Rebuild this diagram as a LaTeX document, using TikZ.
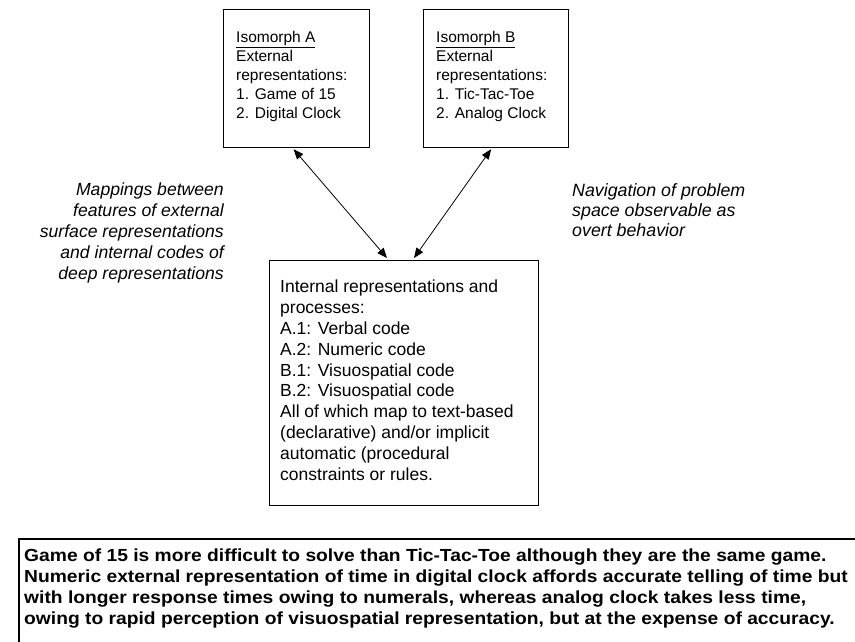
\documentclass[tikz,border=0pt]{standalone}
\usepackage{fontspec}
\setmainfont{Liberation Sans}
\usetikzlibrary{arrows.meta,calc}
\begin{document}
\begin{tikzpicture}[x=1pt,y=-1pt,
  boxed/.style={draw=black, line width=1.2pt, inner sep=0pt, anchor=north west},
  topfont/.style={font=\fontsize{15.5}{19}\selectfont, align=left, anchor=north west, inner sep=0pt},
  midfont/.style={font=\fontsize{17.5}{20.8}\selectfont, align=left, anchor=north west, inner sep=0pt},
  notefont/.style={font=\fontsize{17.6}{21}\selectfont\itshape, inner sep=0pt},
  conn/.style={line width=0.8pt, {Triangle[length=10pt,width=8pt]}-{Triangle[length=10pt,width=8pt]}}
]
\useasboundingbox (0,0) rectangle (855,641);
\fill[white] (0,0) rectangle (855,641);

% top boxes
\node[boxed, minimum width=146pt, minimum height=138pt] (A) at (223,9) {};
\node[topfont] (Atext) at ($(A.north west)+(13,22)$)
  {\underline{Isomorph A}\\External\\representations:\\1. Game of 15\\2. Digital Clock};
\node[boxed, minimum width=145pt, minimum height=138pt] (B) at (423,9) {};
\node[topfont] (Btext) at ($(B.north west)+(13,22)$)
  {\underline{Isomorph B}\\External\\representations:\\1. Tic-Tac-Toe\\2. Analog Clock};

% internal box
\node[boxed, minimum width=269pt, minimum height=245pt] (C) at (269,260) {};
\node[midfont] (Ctext) at ($(C.north west)+(11,20)$)
  {Internal representations and\\processes:\\A.1: Verbal code\\A.2: Numeric code\\B.1: Visuospatial code\\B.2: Visuospatial code\\All of which map to text-based\\(declarative) and/or implicit\\automatic (procedural\\constraints or rules.};

% notes
\node[notefont, align=right, anchor=north east] (left) at (224,183)
  {Mappings between\\features of external\\surface representations\\and internal codes of\\deep representations};
\node[notefont, align=left, anchor=north west, font=\fontsize{17.8}{20}\selectfont\itshape] (right) at (572,183)
  {Navigation of problem\\space observable as\\overt behavior};

% connectors
\coordinate (a1) at ($(A.south)+(-3,1)$);
\coordinate (c1) at ($(C.north west)+(118,-2)$);
\coordinate (b1) at ($(B.south)+(-5,1)$);
\coordinate (c2) at ($(C.north west)+(145,-2)$);
\draw[conn] (a1) -- (c1);
\draw[conn] (b1) -- (c2);

% bottom box
\node[draw=black, line width=2pt, anchor=north west, minimum width=850pt, minimum height=120pt, inner sep=0pt] (D) at (18,538) {};
\node[font=\fontsize{17.5}{21}\selectfont\bfseries, align=left, anchor=north west, inner sep=0pt, xscale=1.1, transform shape] (Dtext) at (24,549)
  {Game of 15 is more difficult to solve than Tic-Tac-Toe although they are the same game.\\
   Numeric external representation of time in digital clock affords accurate telling of time but\\
   with longer response times owing to numerals, whereas analog clock takes less time,\\
   owing to rapid perception of visuospatial representation, but at the expense of accuracy.};
\end{tikzpicture}
\end{document}
